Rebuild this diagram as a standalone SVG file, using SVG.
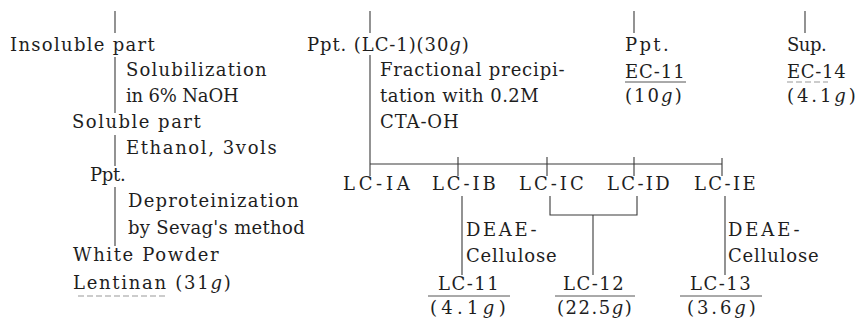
<svg xmlns="http://www.w3.org/2000/svg" width="860" height="327" viewBox="0 0 860 327">
  <style>
    .t { font-family: "DejaVu Serif", "Liberation Serif", serif; font-size: 18px; letter-spacing: 1.3px; fill: #1e1e1e; }
    .g { font-style: italic; }
    .ln { stroke: #3a3a3a; stroke-width: 1.1; fill: none; }
    .ul { stroke: #555; stroke-width: 1; fill: none; }
    .faint { stroke: #999; stroke-width: 1; stroke-dasharray: 6 3; fill: none; }
  </style>
  <rect width="860" height="327" fill="#ffffff"/>

  <!-- connectors -->
  <g id="connectors">
    <!-- left branch -->
    <line class="ln" x1="115" y1="11" x2="115" y2="33"/>
    <line class="ln" x1="115" y1="57" x2="115" y2="113"/>
    <line class="ln" x1="115" y1="135" x2="115" y2="166"/>
    <line class="ln" x1="115" y1="187" x2="115" y2="246"/>
    <!-- middle branch -->
    <line class="ln" x1="370" y1="11" x2="370" y2="33"/>
    <line class="ln" x1="370" y1="55" x2="370" y2="176"/>
    <line class="ln" x1="370" y1="164" x2="722" y2="164"/>
    <line class="ln" x1="458" y1="157" x2="458" y2="176"/>
    <line class="ln" x1="547" y1="157" x2="547" y2="176"/>
    <line class="ln" x1="634" y1="157" x2="634" y2="176"/>
    <line class="ln" x1="722" y1="158" x2="722" y2="176"/>
    <!-- LC-IB to LC-11 -->
    <line class="ln" x1="462" y1="196" x2="462" y2="275"/>
    <!-- LC-IC + LC-ID combined to LC-12 -->
    <polyline class="ln" points="550,196 550,215 637,215 637,196"/>
    <line class="ln" x1="593" y1="215" x2="593" y2="275"/>
    <!-- LC-IE to LC-13 -->
    <line class="ln" x1="725" y1="196" x2="725" y2="275"/>
    <!-- right ticks -->
    <line class="ln" x1="634" y1="11" x2="634" y2="33"/>
    <line class="ln" x1="805" y1="11" x2="805" y2="33"/>
  </g>

  <!-- left column -->
  <g id="insoluble-part"><text class="t" x="10" y="51" textLength="146">Insoluble part</text></g>
  <g id="step-naoh">
    <text class="t" x="126" y="76" textLength="142">Solubilization</text>
    <text class="t" x="126" y="102" textLength="114">in 6% NaOH</text>
  </g>
  <g id="soluble-part"><text class="t" x="72" y="128" textLength="130">Soluble part</text></g>
  <g id="step-ethanol"><text class="t" x="126" y="154" textLength="152">Ethanol, 3vols</text></g>
  <g id="ppt-left"><text class="t" x="90" y="181" textLength="37">Ppt.</text></g>
  <g id="step-sevag">
    <text class="t" x="128" y="207" textLength="172">Deproteinization</text>
    <text class="t" x="128" y="234" textLength="178">by Sevag's method</text>
  </g>
  <g id="white-powder"><text class="t" x="73" y="261" textLength="147">White Powder</text></g>
  <g id="lentinan">
    <text class="t" x="73" y="289" textLength="159">Lentinan (31<tspan class="g">g</tspan>)</text>
    <line class="faint" x1="78" y1="296" x2="168" y2="296"/>
  </g>

  <!-- middle column -->
  <g id="ppt-lc1"><text class="t" x="307" y="51" textLength="163">Ppt. (LC-1)(30<tspan class="g">g</tspan>)</text></g>
  <g id="step-cta">
    <text class="t" x="380" y="76" textLength="186">Fractional precipi-</text>
    <text class="t" x="380" y="102" textLength="160">tation with 0.2M</text>
    <text class="t" x="380" y="128" textLength="80">CTA-OH</text>
  </g>
  <g id="lc-ia"><text class="t" x="343" y="190" textLength="68">LC-IA</text></g>
  <g id="lc-ib"><text class="t" x="432" y="190" textLength="65">LC-IB</text></g>
  <g id="lc-ic"><text class="t" x="519" y="190" textLength="66">LC-IC</text></g>
  <g id="lc-id"><text class="t" x="607" y="190" textLength="64">LC-ID</text></g>
  <g id="lc-ie"><text class="t" x="694" y="190" textLength="63">LC-IE</text></g>
  <g id="deae-1">
    <text class="t" x="466" y="236" textLength="72">DEAE-</text>
    <text class="t" x="466" y="262" textLength="92">Cellulose</text>
  </g>
  <g id="deae-2">
    <text class="t" x="728" y="236" textLength="73">DEAE-</text>
    <text class="t" x="728" y="262" textLength="92">Cellulose</text>
  </g>
  <g id="lc-11">
    <text class="t" x="438" y="290" textLength="62">LC-11</text>
    <line class="ul" x1="428" y1="296" x2="510" y2="296"/>
    <text class="t" x="430" y="314" textLength="77">(4.1<tspan class="g">g</tspan>)</text>
  </g>
  <g id="lc-12">
    <text class="t" x="563" y="290" textLength="62">LC-12</text>
    <line class="ul" x1="555" y1="296" x2="635" y2="296"/>
    <text class="t" x="557" y="314" textLength="76">(22.5<tspan class="g">g</tspan>)</text>
  </g>
  <g id="lc-13">
    <text class="t" x="690" y="290" textLength="62">LC-13</text>
    <line class="ul" x1="680" y1="296" x2="762" y2="296"/>
    <text class="t" x="687" y="314" textLength="70">(3.6<tspan class="g">g</tspan>)</text>
  </g>

  <!-- right columns -->
  <g id="ppt-ec11">
    <text class="t" x="625" y="51" textLength="45">Ppt.</text>
    <text class="t" x="625" y="78" textLength="61">EC-11</text>
    <line class="ul" x1="625" y1="82" x2="686" y2="82"/>
    <text class="t" x="625" y="102" textLength="58">(10<tspan class="g">g</tspan>)</text>
  </g>
  <g id="sup-ec14">
    <text class="t" x="787" y="51" textLength="41">Sup.</text>
    <text class="t" x="787" y="78" textLength="60">EC-14</text>
    <line class="faint" x1="787" y1="82" x2="828" y2="82"/>
    <text class="t" x="787" y="102" textLength="70">(4.1<tspan class="g">g</tspan>)</text>
  </g>
</svg>
